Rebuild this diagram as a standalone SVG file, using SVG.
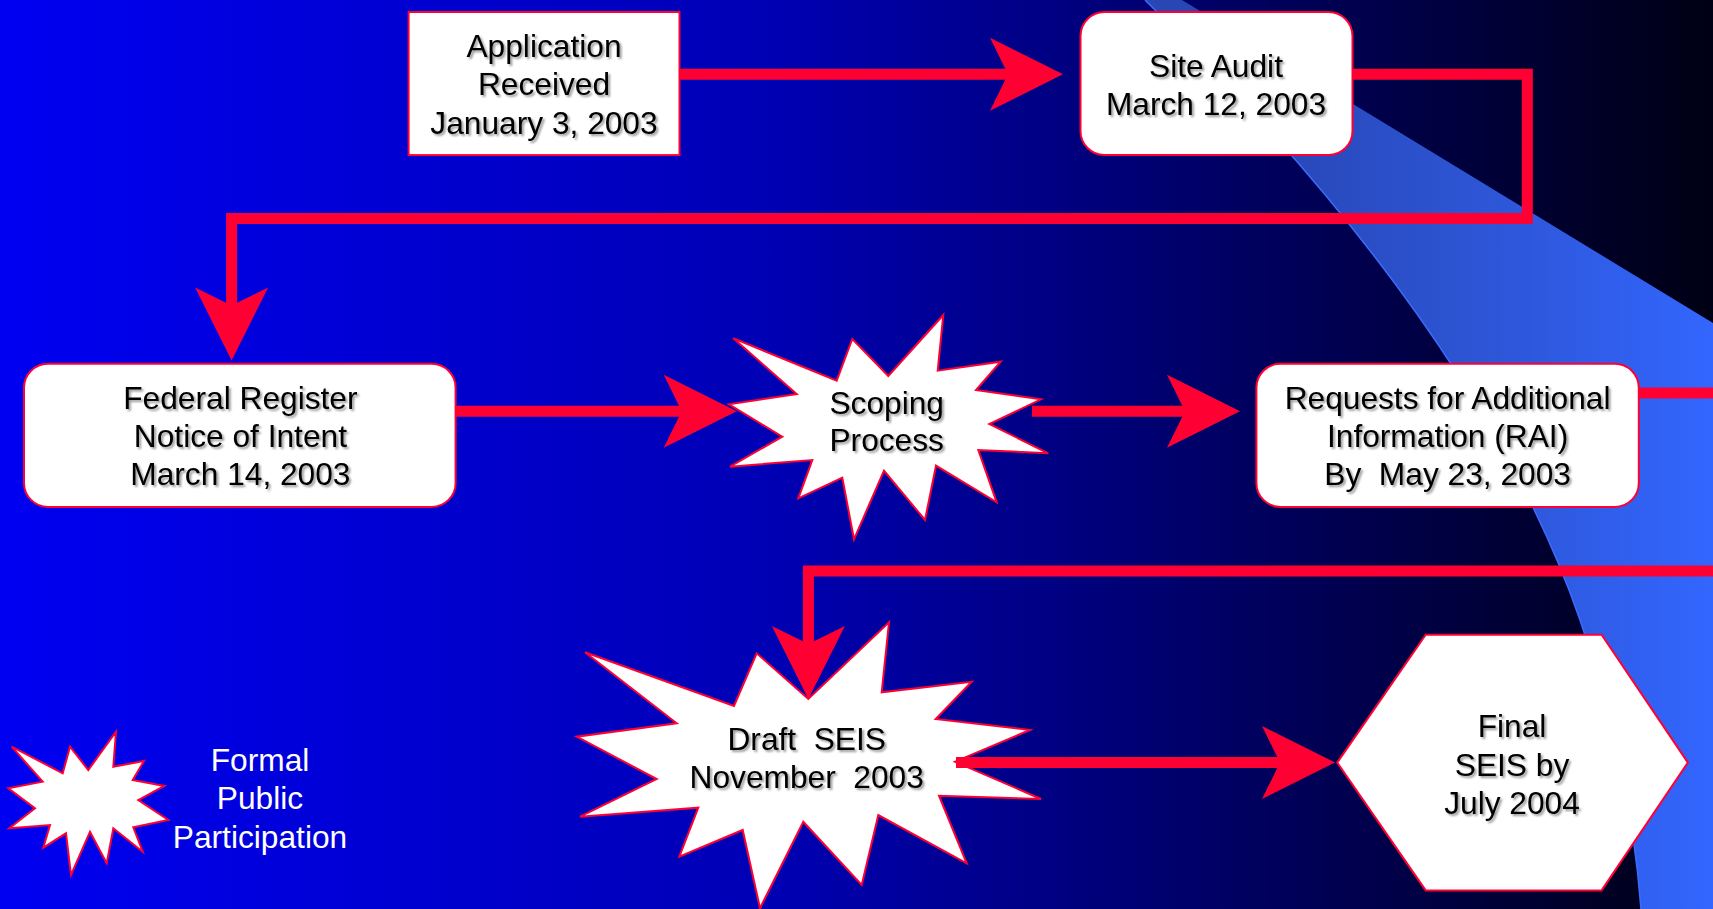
<svg xmlns="http://www.w3.org/2000/svg" width="1713" height="909" viewBox="0 0 1713 909">
<defs>
<linearGradient id="bg" x1="0" y1="0" x2="1713" y2="0" gradientUnits="userSpaceOnUse">
<stop offset="0" stop-color="#0000F2"/>
<stop offset="0.45" stop-color="#0000B4"/>
<stop offset="0.72" stop-color="#000062"/>
<stop offset="1" stop-color="#000014"/>
</linearGradient>
<linearGradient id="band" x1="1250" y1="0" x2="1713" y2="0" gradientUnits="userSpaceOnUse">
<stop offset="0" stop-color="#2846B4"/>
<stop offset="0.6" stop-color="#2E58DC"/>
<stop offset="1" stop-color="#3366FF"/>
</linearGradient>
<filter id="sh" x="-10%" y="-20%" width="120%" height="150%">
<feDropShadow dx="2" dy="2" stdDeviation="0.8" flood-color="#000" flood-opacity="0.4"/>
</filter>
<marker id="ah" markerUnits="userSpaceOnUse" viewBox="-20 -40 80 80" markerWidth="80" markerHeight="80" refX="0" refY="0" orient="auto" overflow="visible">
<path d="M55,0 L-18,-36.5 L0,0 L-18,36.5 Z" fill="#FF0033"/>
</marker>
<style>
.box{fill:#FFFFFF;stroke:#FF0033;stroke-width:2}
.t{font-family:"Liberation Sans",Arial,sans-serif;font-size:31.7px;fill:#000000;text-anchor:middle;filter:url(#sh)}
.lg{font-family:"Liberation Sans",Arial,sans-serif;font-size:31.7px;fill:#FFFFFF;text-anchor:middle}
.c{fill:none;stroke:#FF0033;stroke-width:11;stroke-linejoin:miter;marker-end:url(#ah)}
.c2{fill:none;stroke:#FF0033;stroke-width:11;stroke-linejoin:miter}
</style>
</defs>
<rect x="0" y="0" width="1713" height="909" fill="url(#bg)"/>
<path d="M1145,0 L1182,0 L1713,323 L1713,909 L1641,909 Q1630,765 1580,620 Q1480,330 1145,0 Z" fill="url(#band)"/>
<path d="M1145,0 Q1480,330 1580,620 Q1630,765 1641,909" fill="none" stroke="#3A6CFF" stroke-width="1.5"/>

<g id="nodes">
<g id="n-application">
<rect class="box" x="408.6" y="12" width="270.9" height="143.1"/>
<text class="t" x="544" y="57.2">Application</text>
<text class="t" x="544" y="95.4">Received</text>
<text class="t" x="544" y="133.7">January 3, 2003</text>
</g>
<g id="n-siteaudit">
<rect class="box" x="1080.5" y="12" width="272" height="143.1" rx="24" ry="24"/>
<text class="t" x="1216" y="76.8">Site Audit</text>
<text class="t" x="1216" y="115.1">March 12, 2003</text>
</g>
<g id="n-federal">
<rect class="box" x="24" y="363.8" width="431.6" height="143.1" rx="24" ry="24"/>
<text class="t" x="240.4" y="409">Federal Register</text>
<text class="t" x="240.4" y="447.2">Notice of Intent</text>
<text class="t" x="240.4" y="485.4">March 14, 2003</text>
</g>
<g id="n-scoping">
<polygon class="box" points="733.3,338.3 796.7,394 729,404.3 782.3,436.7 730,466.7 812.3,460 798.3,498.3 842.3,477.7 854,539.3 884,470.7 925,520 936,465.7 996.7,502.3 978.3,450 1048.3,453.3 989.3,424 1041,399.3 976,390 1000.7,361.7 937.7,370.7 943.3,315 888.3,376 852.3,339 836.7,380.7"/>
<text class="t" x="886.7" y="413.5">Scoping</text>
<text class="t" x="886.7" y="451">Process</text>
</g>
<g id="n-rai">
<rect class="box" x="1256.4" y="363.8" width="382.4" height="143.1" rx="24" ry="24"/>
<text class="t" x="1447.6" y="409">Requests for Additional</text>
<text class="t" x="1447.6" y="447.2">Information (RAI)</text>
<text class="t" x="1447.6" y="485.4" xml:space="preserve">By  May 23, 2003</text>
</g>
<g id="n-draft">
<polygon class="box" points="585,652.3 676.7,723.3 576.7,736.7 656.7,779 580,816.7 698.3,807.7 679.3,856.7 742.7,830 760,908.3 803.3,821.7 861.7,885 878.3,815 966.7,863.3 939,795.7 1041,799 955,761.7 1030,730 935.7,719 971.7,681.7 881.7,692.3 889,622.3 808.3,699 756.7,653.3 734,706"/>
<text class="t" x="806.7" y="750" xml:space="preserve">Draft  SEIS</text>
<text class="t" x="806.7" y="788.3" xml:space="preserve">November  2003</text>
</g>
<g id="n-final">
<polygon class="box" points="1425.7,634.7 1601.6,634.7 1687.9,762.6 1601.6,890.4 1425.7,890.4 1337.2,762.6"/>
<text class="t" x="1512" y="736.7">Final</text>
<text class="t" x="1512" y="776">SEIS by</text>
<text class="t" x="1512" y="814.3">July 2004</text>
</g>
<g id="n-legend">
<polygon class="box" points="11.7,746.7 62.7,773.3 70,746.7 88.3,770 116,731.7 113.3,766.7 144,761 132.7,780 164.3,786 138.3,800 168.3,820 133.3,827.3 142.7,851.7 113.3,828.3 106.7,863.3 90,831.7 71,875 66,833.3 43.3,847.7 50,825 9.3,828.3 35,808.3 8.3,788.3 42.7,781.7"/>
<text class="lg" x="260" y="770.7">Formal</text>
<text class="lg" x="260" y="809.3">Public</text>
<text class="lg" x="260" y="847.7">Participation</text>
</g>
</g>

<g id="connectors">
<path class="c" d="M679.5,74.3 L1008,74.3"/>
<path class="c" d="M1352.5,74.3 L1527.3,74.3 L1527.3,218.5 L231.6,218.5 L231.6,305.5"/>
<path class="c" d="M455.6,411.3 L681.7,411.3"/>
<path class="c" d="M1032,411.3 L1185,411.3"/>
<path class="c" d="M1638.8,393 L1760,393 L1760,571 L808.4,571 L808.4,644"/>
<path class="c" d="M956,762.6 L1280,762.6"/>
</g>
</svg>
